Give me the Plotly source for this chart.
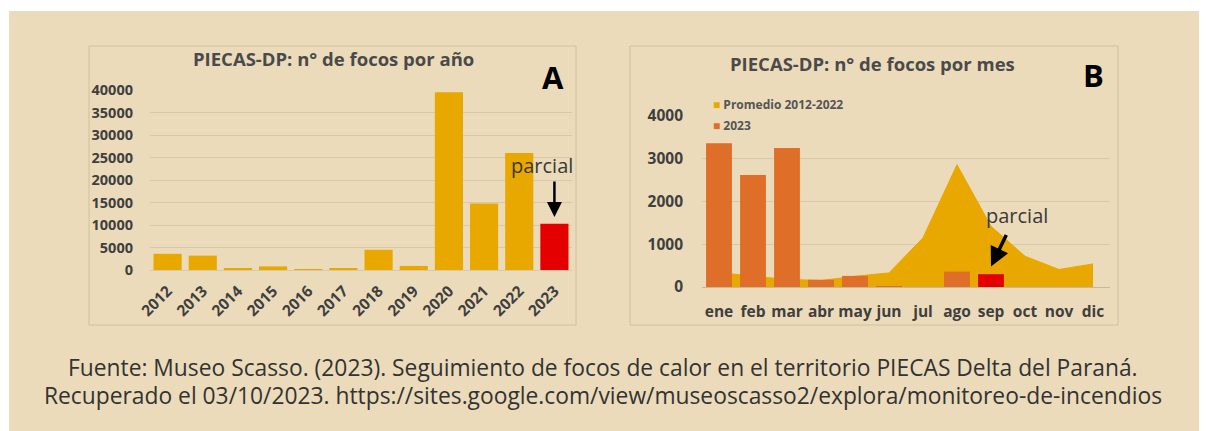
import plotly.graph_objects as go

# ---------------- data ----------------
years = ["2012", "2013", "2014", "2015", "2016", "2017", "2018", "2019",
         "2020", "2021", "2022", "2023"]
focos_anio = [3600, 3200, 300, 800, 200, 250, 4500, 900, 39500, 14800, 26000, 10300]

months = ["ene", "feb", "mar", "abr", "may", "jun", "jul", "ago", "sep", "oct", "nov", "dic"]
promedio_2012_2022 = [340, 250, 180, 150, 250, 330, 1150, 2860, 1420, 720, 410, 540]
focos_2023 = [3360, 2620, 3250, 170, 260, 15, 0, 360, 300, None, None, None]

title_a = "PIECAS-DP: n° de focos por año"
title_b = "PIECAS-DP: n° de focos por mes"
caption_1 = "Fuente: Museo Scasso. (2023). Seguimiento de focos de calor en el territorio PIECAS Delta del Paraná."
caption_2 = "Recuperado el 03/10/2023. https://sites.google.com/view/museoscasso2/explora/monitoreo-de-incendios"

# ---------------- style ----------------
W, H = 1207, 431
OFF = 8  # page body margin
BG = "#EBDBBA"
YELLOW = "#E8A800"
ORANGE = "#DE6E28"
RED = "#E50000"
GRID = "#D6C8A8"
TXT = "#3F3F3F"
FONT = "Open Sans"


def fx(px):
    return (px - OFF) / W


def fy(py):
    return 1 - (py - OFF) / H


bar_colors_a = [YELLOW] * (len(years) - 1) + [RED]
bar_colors_b = [ORANGE] * len(months)
bar_colors_b[months.index("sep")] = RED

fig = go.Figure()

# Panel A bars
fig.add_trace(go.Bar(x=years, y=focos_anio, marker=dict(color=bar_colors_a, line=dict(width=0)),
                     width=0.8, xaxis="x", yaxis="y", showlegend=False))

# Panel B area (average)
fig.add_trace(go.Scatter(x=months, y=promedio_2012_2022, mode="lines", fill="tozeroy",
                         line=dict(color=YELLOW, width=1), fillcolor=YELLOW,
                         xaxis="x2", yaxis="y2", name="Promedio 2012-2022", showlegend=False))

# Panel B bars 2023 (on overlaying axes so they draw above the area)
fig.add_trace(go.Bar(x=months, y=focos_2023, marker=dict(color=bar_colors_b, line=dict(width=0)),
                     width=0.76, xaxis="x3", yaxis="y3", name="2023", showlegend=False))

tickfont_a = dict(family=FONT, size=14.5, color=TXT, weight="bold")
tickfont_ax = dict(family=FONT, size=15.5, color=TXT, weight="bold")
tickfont_b = dict(family=FONT, size=15.5, color=TXT, weight="bold")

fig.update_layout(
    template="none",
    width=W, height=H, autosize=False,
    margin=dict(l=0, r=0, t=0, b=0, pad=0),
    paper_bgcolor="white",
    plot_bgcolor="rgba(0,0,0,0)",
    showlegend=False,
    xaxis=dict(domain=[fx(150), fx(572)], type="category", categoryorder="array", categoryarray=years,
               range=[-0.5, 11.5], autorange=False,
               tickangle=-45, tickfont=tickfont_ax, showgrid=False, zeroline=False, showline=False,
               ticks="", ticklabelstandoff=8, anchor="y", fixedrange=True, automargin=False),
    yaxis=dict(domain=[fy(270), fy(90)], range=[0, 40000], autorange=False, dtick=5000, tickformat="d",
               tickfont=tickfont_a,
               showgrid=True, gridcolor=GRID, gridwidth=1, zeroline=True, zerolinecolor=GRID,
               zerolinewidth=1, showline=False, ticks="", ticklabelstandoff=16, anchor="x",
               fixedrange=True, automargin=False),
    xaxis2=dict(domain=[fx(702), fx(1110)], type="category", categoryorder="array", categoryarray=months,
                range=[-0.5, 11.5], autorange=False, tickfont=tickfont_b,
                showgrid=False, zeroline=False, showline=False, ticks="", ticklabelstandoff=13,
                anchor="y2", fixedrange=True, automargin=False),
    yaxis2=dict(domain=[fy(287), fy(116)], range=[0, 4000], autorange=False, dtick=1000, tickformat="d",
                tickfont=tickfont_b,
                showgrid=True, gridcolor=GRID, gridwidth=1, zeroline=True, zerolinecolor="#C8B896",
                zerolinewidth=1, showline=False, ticks="", ticklabelstandoff=18, anchor="x2",
                fixedrange=True, automargin=False),
    xaxis3=dict(domain=[fx(702), fx(1110)], type="category", categoryorder="array", categoryarray=months,
                range=[-0.5, 11.5], autorange=False, overlaying="x2", anchor="y3", visible=False,
                fixedrange=True, automargin=False),
    yaxis3=dict(domain=[fy(287), fy(116)], range=[0, 4000], autorange=False, overlaying="y2", anchor="x3",
                visible=False, fixedrange=True, automargin=False),
)

shapes = [
    # beige page background
    dict(type="rect", xref="paper", yref="paper", x0=fx(9), x1=1, y0=0, y1=fy(11),
         fillcolor=BG, line=dict(width=0), layer="below"),
    # panel frames
    dict(type="rect", xref="paper", yref="paper", x0=fx(89), x1=fx(576), y0=fy(325), y1=fy(46),
         fillcolor="rgba(0,0,0,0)", line=dict(color="#CFC0A0", width=1), layer="below"),
    dict(type="rect", xref="paper", yref="paper", x0=fx(630), x1=fx(1118), y0=fy(325), y1=fy(46),
         fillcolor="rgba(0,0,0,0)", line=dict(color="#CFC0A0", width=1), layer="below"),
]
fig.update_layout(shapes=shapes)

ann = []
# Titles
ann.append(dict(text=title_a, xref="paper", yref="paper", x=fx(333), y=fy(58), showarrow=False,
                xanchor="center", yanchor="middle",
                font=dict(family=FONT, size=18.5, color="#4A4A4A", weight="bold")))
ann.append(dict(text=title_b, xref="paper", yref="paper", x=fx(873), y=fy(63), showarrow=False,
                xanchor="center", yanchor="middle",
                font=dict(family=FONT, size=18.5, color="#4A4A4A", weight="bold")))
# Panel letters
ann.append(dict(text="A", xref="paper", yref="paper", x=fx(553), y=fy(77), showarrow=False,
                xanchor="center", yanchor="middle",
                font=dict(family=FONT, size=31, color="black", weight="bold")))
ann.append(dict(text="B", xref="paper", yref="paper", x=fx(1093), y=fy(75), showarrow=False,
                xanchor="center", yanchor="middle",
                font=dict(family=FONT, size=31, color="black", weight="bold")))
# Legend for panel B
ann.append(dict(text=f"<span style='color:{YELLOW}'>■</span> Promedio 2012-2022", xref="paper", yref="paper",
                x=fx(711), y=fy(104), showarrow=False, xanchor="left", yanchor="middle",
                font=dict(family=FONT, size=12, color="#555555", weight="bold")))
ann.append(dict(text=f"<span style='color:{ORANGE}'>■</span> 2023", xref="paper", yref="paper",
                x=fx(711), y=fy(126), showarrow=False, xanchor="left", yanchor="middle",
                font=dict(family=FONT, size=12, color="#555555", weight="bold")))
# "parcial" labels
ann.append(dict(text="parcial", xref="paper", yref="paper", x=fx(542), y=fy(165), showarrow=False,
                xanchor="center", yanchor="middle", font=dict(family=FONT, size=20, color="#3A3A3A")))
ann.append(dict(text="parcial", xref="paper", yref="paper", x=fx(1017), y=fy(215), showarrow=False,
                xanchor="center", yanchor="middle", font=dict(family=FONT, size=20, color="#3A3A3A")))
# Arrows
ann.append(dict(text="", x=years.index("2023"), y=11800, xref="x", yref="y", showarrow=True, ax=0, ay=-37,
                arrowhead=2, arrowsize=1.2, arrowwidth=2.5, arrowcolor="black"))
ann.append(dict(text="", x=months.index("sep"), y=480, xref="x2", yref="y2", showarrow=True, ax=16, ay=-33,
                arrowhead=2, arrowsize=1.1, arrowwidth=3.5, arrowcolor="black"))
# Caption
ann.append(dict(text=caption_1, xref="paper", yref="paper", x=fx(603), y=fy(367), showarrow=False,
                xanchor="center", yanchor="middle", font=dict(family="Open Sans", size=22.8, color="#333333")))
ann.append(dict(text=caption_2, xref="paper", yref="paper", x=fx(603), y=fy(395), showarrow=False,
                xanchor="center", yanchor="middle", font=dict(family="Open Sans", size=22.8, color="#333333")))
fig.update_layout(annotations=ann)

fig.write_html("out.html")
